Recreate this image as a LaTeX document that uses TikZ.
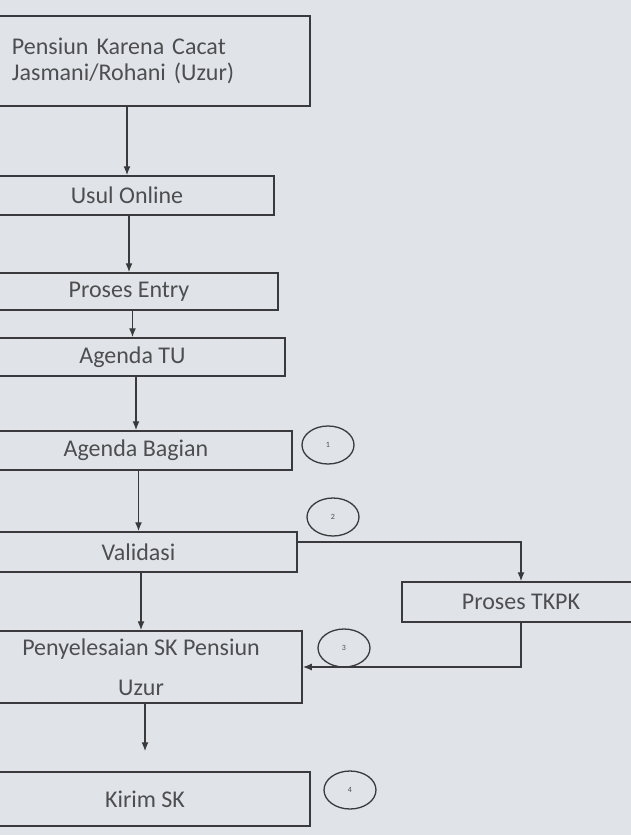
\documentclass[tikz,border=0pt]{standalone}
\usepackage{fontspec}
\setmainfont{Carlito}
\usetikzlibrary{arrows.meta,shapes.geometric}
\definecolor{kertas}{RGB}{224,228,232}
\definecolor{garis}{RGB}{58,58,60}
\definecolor{tulisan}{RGB}{78,78,80}

\begin{document}
\begin{tikzpicture}[x=1pt,y=-1pt,
  kotak/.style={draw=garis,line width=1.5pt,text=tulisan,inner sep=0pt,
    font=\fontsize{24}{26}\selectfont},
  bulat/.style={ellipse,draw=garis,line width=1.3pt,minimum width=52pt,
    minimum height=38pt,inner sep=0pt,text=tulisan,font=\fontsize{8}{9}\selectfont},
  alur/.style={draw=garis,line width=1.3pt,->},
  >={Latex[length=9pt,width=7pt]}]

% Page (photo background)
\fill[kertas] (0,0) rectangle (631,835);
\useasboundingbox (0,0) rectangle (631,835);

% Main column (left edges run off the page)
\node[kotak,align=left,text width=266pt,inner xsep=32pt,minimum height=90pt]
  (pensiun) at (145,61) {Pensiun Karena Cacat\\Jasmani/Rohani (Uzur)};
\node[kotak,minimum width=294pt,minimum height=39pt] (usul) at (127,195.5) {Usul Online};
\node[kotak,minimum width=298pt,minimum height=37pt] (entry) at (129,291.5) {Proses Entry};
\node[kotak,minimum width=305pt,minimum height=38pt] (tu) at (132.5,357) {Agenda TU};
\node[kotak,minimum width=312pt,minimum height=39pt] (bagian) at (136,450.5) {Agenda Bagian};
\node[kotak,minimum width=317pt,minimum height=40pt] (validasi) at (138.5,552) {Validasi};
\node[kotak,align=center,font=\fontsize{24}{40}\selectfont,minimum width=322pt,
  minimum height=72pt] (selesai) at (141,667) {Penyelesaian SK Pensiun\\Uzur};
\node[kotak,minimum width=330pt,minimum height=54pt] (kirim) at (145,799) {Kirim SK};

% Side branch
\node[kotak,minimum width=238pt,minimum height=40pt] (tkpk) at (521,602) {Proses TKPK};

% Numbered marks
\node[bulat] (n1) at (328,445) {1};
\node[bulat] (n2) at (333,517) {2};
\node[bulat] (n3) at (344,648) {3};
\node[bulat] (n4) at (350,790) {4};

% Flow
\draw[alur] (pensiun.south -| usul.north) -- (usul.north);
\draw[alur] (usul.south -| entry.north) -- (entry.north);
\draw[alur] (entry.south -| tu.north) -- (tu.north);
\draw[alur] (tu.south -| bagian.north) -- (bagian.north);
\draw[alur] (bagian.south -| validasi.north) -- (validasi.north);
\draw[alur] (validasi.south -| selesai.north) -- (selesai.north);
\draw[alur,shorten >=20pt] (selesai.south -| kirim.north) -- (kirim.north);

% TKPK loop
\draw[alur] ([yshift=10pt]validasi.east) -| (tkpk.north);
\draw[alur] (tkpk.south) |- (selesai.east);

\end{tikzpicture}
\end{document}
